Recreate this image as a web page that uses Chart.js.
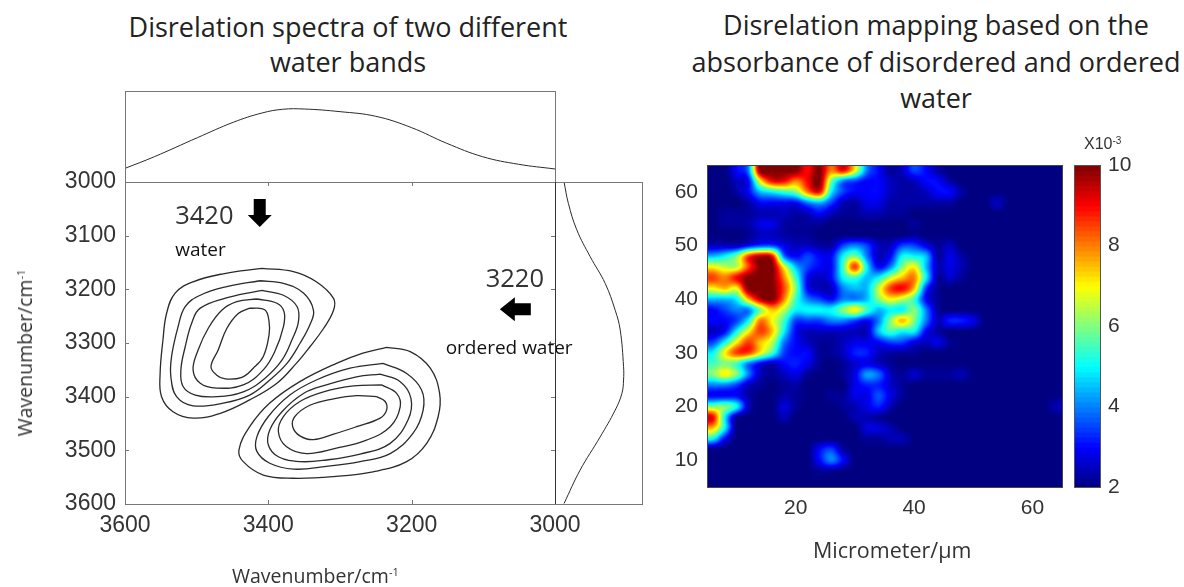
<!DOCTYPE html>
<html lang="en">
<head>
<meta charset="UTF-8">
<title>Disrelation spectra and mapping</title>
<script src="https://cdn.jsdelivr.net/npm/chart.js"></script>
<style>
    body { margin: 0; background: #fff; width: 1184px; height: 587px; overflow: hidden; position: relative; font-family: 'Open Sans', sans-serif; color: #333; }
    canvas { position: absolute; }
    .title { position: absolute; text-align: center; font-size: 27px; white-space: nowrap; color: #222; }
    .axisLabel { position: absolute; white-space: nowrap; line-height: 28px; }
    .axisLabel sup { font-size: 11px; vertical-align: 7px; line-height: 0; }
    #scaleNote { position: absolute; left: 1084px; top: 135px; font: 16px 'Liberation Sans', sans-serif; }
    #scaleNote sup { font-size: 10px; vertical-align: 5px; line-height: 0; }
</style>
</head>
<body>
<div class="title" style="left:48px;width:600px;top:9px;line-height:35px">Disrelation spectra of two different<br>water bands</div>
<div class="title" style="left:636px;width:600px;top:7px;line-height:36.5px">Disrelation mapping based on the<br>absorbance of disordered and ordered<br>water</div>
<canvas id="mainChart" width="580" height="417" style="left:0;top:170px"></canvas>
<canvas id="topChart" width="445" height="100" style="left:120px;top:85px"></canvas>
<canvas id="sideChart" width="92" height="417" style="left:555px;top:170px"></canvas>
<canvas id="heatChart" width="420" height="437" style="left:650px;top:150px"></canvas>
<canvas id="barChart" width="116" height="437" style="left:1064px;top:150px"></canvas>
<div id="scaleNote">X10<sup>-3</sup></div>
<div class="axisLabel" style="left:232px;top:562px;font-size:19.5px">Wavenumber/cm<sup>-1</sup></div>
<div class="axisLabel" style="left:25px;top:353px;font-size:19.5px;transform:translate(-50%,-50%) rotate(-90deg)">Wavenumber/cm<sup>-1</sup></div>
<div class="axisLabel" style="left:813px;top:536px;font-size:21.5px">Micrometer/µm</div>

<script>
const wnTicksX = [3600, 3400, 3200, 3000];
const wnTicksY = [3000, 3100, 3200, 3300, 3400, 3500, 3600];
const heatTicksX = [20, 40, 60];
const heatTicksY = [10, 20, 30, 40, 50, 60];
const colorTicks = [2, 4, 6, 8, 10];

// [wavenumber, intensity]
const topSpectrum = [[3600,.15],[3559,.278],[3499,.487],[3449,.656],[3409,.758],[3380,.799],[3350,.802],[3300,.773],[3250,.722],[3200,.597],[3151,.425],[3101,.278],[3051,.195],[3000,.143]];
// [intensity, wavenumber]
const sideSpectrum = [[.104,3000],[.154,3040],[.25,3089],[.404,3139],[.577,3189],[.692,3239],[.75,3276],[.788,3344],[.788,3369],[.769,3394],[.692,3425],[.519,3475],[.288,3537],[.104,3599]];

const waterLoop1 = [[3409,3161],[3365,3167],[3333,3186],[3309,3217],[3309,3239],[3323,3273],[3342,3307],[3361,3338],[3388,3375],[3426,3406],[3467,3431],[3505,3440],[3533,3428],[3549,3400],[3551,3357],[3547,3294],[3542,3245],[3530,3207],[3505,3186],[3463,3171]];
const waterLoop2 = [[3412,3184],[3379,3189],[3351,3207],[3337,3239],[3342,3266],[3356,3301],[3374,3338],[3398,3369],[3426,3397],[3463,3412],[3505,3417],[3528,3400],[3536,3363],[3535,3325],[3526,3270],[3516,3232],[3495,3211],[3458,3195]];
const waterLoop3 = [[3409,3202],[3379,3211],[3360,3232],[3358,3260],[3367,3294],[3381,3332],[3405,3366],[3435,3391],[3472,3400],[3502,3397],[3519,3381],[3522,3350],[3516,3307],[3507,3263],[3495,3235],[3453,3214]];
const waterLoop4 = [[3416,3218],[3388,3226],[3378,3242],[3379,3270],[3391,3316],[3407,3350],[3435,3378],[3472,3384],[3495,3375],[3505,3350],[3498,3313],[3484,3273],[3465,3239],[3444,3223]];
const waterLoop5 = [[3426,3235],[3405,3238],[3399,3260],[3399,3285],[3407,3325],[3421,3347],[3437,3364],[3460,3367],[3472,3360],[3480,3344],[3470,3313],[3458,3273],[3442,3245]];
const orderedLoop1 = [[3235,3308],[3202,3316],[3174,3347],[3161,3394],[3163,3437],[3179,3487],[3207,3521],[3254,3540],[3309,3549],[3365,3552],[3407,3546],[3435,3521],[3441,3499],[3426,3456],[3398,3412],[3356,3372],[3305,3338],[3268,3319]];
const orderedLoop2 = [[3240,3338],[3207,3357],[3186,3388],[3184,3425],[3198,3468],[3230,3506],[3272,3521],[3319,3530],[3365,3535],[3398,3524],[3416,3502],[3416,3475],[3400,3437],[3370,3397],[3333,3369],[3286,3347]];
const orderedLoop3 = [[3244,3358],[3216,3372],[3201,3403],[3205,3443],[3230,3487],[3272,3507],[3319,3518],[3356,3521],[3386,3512],[3400,3490],[3398,3462],[3381,3428],[3351,3394],[3319,3378],[3277,3363]];
const orderedLoop4 = [[3242,3378],[3221,3394],[3216,3419],[3230,3456],[3263,3481],[3305,3496],[3347,3506],[3375,3493],[3386,3465],[3379,3437],[3356,3409],[3323,3391],[3281,3380]];
const orderedLoop5 = [[3249,3400],[3237,3409],[3235,3425],[3244,3440],[3277,3456],[3309,3470],[3337,3480],[3356,3473],[3366,3456],[3363,3437],[3342,3416],[3309,3404],[3277,3398]];

// absorbance map, first row is y=64, last row y=6, columns x=6,8,...,64
const heatValues = [
 [2,2,3,4,10,10,10,10,9,10,8,9,7,4,3,2.2,2.5,3.5,3,2.3,2,2,2,2,2,2,2,2,2,2],
 [2,2,2.5,3,7,9,9,8,9,10,6,4,3.5,3,3,2.5,2.3,2.5,3,3,2.3,2,2,2,2,2,2,2,2,2],
 [2,2,2.3,3,4.5,5,5.5,6,8,9,5,3.5,3,3,3,2.5,2.3,2.3,2.5,3,3,2.3,2,2,2,2,2,2,2,2],
 [2,2,2,2.3,3,3,3,3,4,4.5,3.5,2.5,2.3,2.8,2.8,2.3,2.3,2.3,2.3,2.3,2.3,2,2,2,2.5,2,2,2,2,2],
 [2,2.2,2.2,2.2,2.4,2.4,2.5,2.3,2.5,3,2.5,2.2,2.2,2.4,2.4,2.2,2.2,2,2,2,2,2,2,2,2,2,2,2,2,2],
 [2,2.2,2.2,2.3,2.8,2.8,2.3,2.2,2.2,2.2,2,2,2,2,2,2,2,2.2,2,2,2,2,2,2,2,2,2,2,2,2],
 [2,2,2,2.2,2.5,2.5,2.3,2.2,2.2,2,2,2,2,2,2,2,2,2.2,2,2,2,2,2,2,2,2,2,2,2,2],
 [2.5,2.5,2.5,3,3.5,3.5,2.8,2.5,2.5,2.3,2.3,3.5,4,3.5,2.5,2.5,3.5,3.5,2.8,2.2,2.5,2,2,2,2,2,2,2,2,2],
 [4.5,5,6,8.5,9.5,9,4,3,3.5,3,3,5,6,4,2.5,3,5,5,4.5,2.3,2.8,2.3,2,2,2,2,2,2,2,2],
 [7,6.5,6.5,8.5,10,10,7,4.5,3.5,3,3,5.5,8.5,5,3,4,6,7,4.5,2.5,2.8,2.4,2,2,2,2,2,2,2,2],
 [8.5,8,9,10,10,10,8,5.5,3,2.5,3,5,5.5,4.5,5,6.5,7.5,8,5,2.3,2.6,2.2,2,2,2,2,2,2,2,2],
 [7,7.5,7,10,10,10,8.5,6,3,2.5,2.5,4,4.5,4.5,6.5,8.5,9,7.5,3.5,2.2,2,2,2,2,2,2,2,2,2,2],
 [4.5,4.5,5,7.5,9.5,10,8,5.5,4,3.5,3,4,4,4.5,6,7,6.5,5.5,3,2.2,2,2,2,2,2,2,2,2,2,2],
 [3,3.5,4,4,6,7.5,6.5,5,5,5,5,6,7,5.5,4.5,5,5,6,4,2.3,2,2,2,2,2,2,2,2,2,2],
 [3,3,3.5,5,8,7,5.5,3.5,3.5,3.5,4,4,3.5,3,4,6,7.5,6,4,2.5,3.2,3.2,2.8,2,2,2,2,2,2,2],
 [2.5,3,5,7,8.5,7.5,5,3,2.5,2.5,2.5,2.5,2.5,2.5,4.5,5.5,5,5,3,2.3,2,2,2,2,2,2,2,2,2,2],
 [3.5,5,7,8.5,7.5,6.5,4,3,2.5,2.2,2.2,2.5,2.8,2.8,3,3.5,3.5,2.8,2.5,2.8,2.2,2,2,2,2,2,2,2,2,2],
 [5,7,8.5,8.5,7,5.5,3.5,3,3,2.2,2.2,2.5,3.2,3.2,2.5,2.3,2.2,2.2,2,2,2,2,2,2,2,2,2,2,2,2],
 [5.5,6,5.5,4,3,2.5,3,3.2,2.8,2.2,2,2.2,2.6,2.8,2.5,2.2,2,2,2,2,2,2,2,2,2,2,2,2,2,2],
 [6,7,6,4,2.5,2.2,2.5,2.8,2.2,2,2,2.2,2.8,4.2,3.8,2.5,2.2,2.6,2.2,2.2,2.2,2.4,2,2,2,2,2,2,2,2],
 [4,4,3.5,2.5,2.2,2,2.2,2.3,2,2,2,2,2.8,3.2,3.2,2.6,2.2,2,2,2,2,2,2,2,2,2,2,2,2,2],
 [3,3,3,2.3,2,2,2.3,2.2,2,2,2.2,2.2,2.8,2.8,3.6,2.8,2.2,2,2,2,2,2,2,2,2,2,2,2,2,2],
 [6,6,5,2.5,2,2,2.7,2.2,2,2,2,2.2,2.4,2.8,3.2,2.4,2,2,2,2,2,2,2,2,2,2,2,2,2,2.4],
 [9,5,2.2,2,2,2,2.4,2,2,2,2,2,2.4,2.4,2.2,2,2,2,2,2,2,2,2,2,2,2,2,2,2,2],
 [7.5,5,2,2,2,2,2,2,2,2,2,2,2,2.7,2.7,2.4,2,2,2,2,2,2,2,2,2,2,2,2,2,2],
 [5,3,2,2,2,2,2,2,2,2,2,2,2,2.2,2.2,2.4,2.4,2,2,2,2,2,2,2,2,2,2,2,2,2],
 [2,2,2,2,2,2,2,2,2,3,3.5,2.3,2,2,2,2,2,2,2,2,2,2,2,2,2,2,2,2,2,2],
 [2,2,2,2,2,2,2,2,2,3,4,3,2,2,2,2,2,2,2,2,2,2,2,2,2,2,2,2,2,2],
 [2,2,2,2,2,2,2,2,2,2.2,2.2,2,2,2,2,2,2,2,2,2,2,2,2,2,2,2,2,2,2,2],
 [2,2,2,2,2,2,2,2,2,2,2,2,2,2,2,2,2,2,2,2,2,2,2,2,2,2,2,2,2,2]
];

const tickFont = { family: 'Liberation Sans', size: 23 };
const heatTickFont = { family: 'Liberation Sans', size: 21 };
const lineColor = '#2a2a2a';
const frameColor = '#777';

function pts(list) {
    return list.map(p => ({ x: p[0], y: p[1] }));
}

function loopData(list) {
    return pts(list.concat([list[0]]));
}

function jet(v) {
    const t = Math.min(1, Math.max(0, (v - 2) / 8));
    const c = o => Math.round(255 * Math.min(1, Math.max(0, 1.5 - Math.abs(4 * t - o))));
    return [c(3), c(2), c(1)];
}

function cubic(a, b, c, d, t) {
    return b + 0.5 * t * (c - a + t * (2 * a - 5 * b + 4 * c - d + t * (3 * (b - c) + d - a)));
}

function heatAt(x, y) {
    const fx = (x - 6) / 2, fy = (64 - y) / 2;
    const ix = Math.floor(fx), iy = Math.floor(fy);
    const cell = (i, j) => heatValues[Math.min(29, Math.max(0, j))][Math.min(29, Math.max(0, i))];
    const row = j => cubic(cell(ix - 1, j), cell(ix, j), cell(ix + 1, j), cell(ix + 2, j), fx - ix);
    return cubic(row(iy - 1), row(iy), row(iy + 1), row(iy + 2), fy - iy);
}

// frame round the plot with short ticks pointing inward
const framePlugin = {
    id: 'frame',
    afterDraw(chart, args, opts) {
        const { ctx, chartArea: a, scales } = chart;
        ctx.save();
        ctx.strokeStyle = opts.color || frameColor;
        ctx.lineWidth = 1;
        ctx.strokeRect(a.left + .5, a.top + .5, a.right - a.left, a.bottom - a.top);
        if (opts.ticks) {
            ctx.beginPath();
            scales.x.ticks.forEach(t => {
                const p = Math.round(scales.x.getPixelForValue(t.value)) + .5;
                ctx.moveTo(p, a.top); ctx.lineTo(p, a.top + 4);
                ctx.moveTo(p, a.bottom); ctx.lineTo(p, a.bottom - 4);
            });
            scales.y.ticks.forEach(t => {
                const p = Math.round(scales.y.getPixelForValue(t.value)) + .5;
                ctx.moveTo(a.left, p); ctx.lineTo(a.left + 4, p);
                ctx.moveTo(a.right, p); ctx.lineTo(a.right - 4, p);
            });
            ctx.stroke();
        }
        if (opts.leftEdge) {
            ctx.strokeStyle = opts.leftEdge;
            ctx.beginPath();
            ctx.moveTo(a.left + .5, a.top); ctx.lineTo(a.left + .5, a.bottom);
            ctx.stroke();
        }
        ctx.restore();
    }
};

const notePlugin = {
    id: 'notes',
    afterDatasetsDraw(chart) {
        const { ctx, scales: { x, y } } = chart;
        ctx.save();
        ctx.textBaseline = 'middle';
        ctx.fillStyle = '#333';
        ctx.font = "25.5px 'Open Sans'";
        ctx.textAlign = 'left';
        ctx.fillText('3420', x.getPixelForValue(3530), y.getPixelForValue(3064));
        ctx.textAlign = 'center';
        ctx.fillText('3220', x.getPixelForValue(3056), y.getPixelForValue(3183));
        ctx.fillStyle = '#111';
        ctx.font = "19px 'Open Sans'";
        ctx.fillText('ordered water', x.getPixelForValue(3064), y.getPixelForValue(3310));
        ctx.textAlign = 'left';
        ctx.fillText('water', x.getPixelForValue(3530), y.getPixelForValue(3127));

        ctx.fillStyle = '#000';
        const dx = x.getPixelForValue(3412), dy = y.getPixelForValue(3084);
        ctx.beginPath();
        ctx.moveTo(dx, dy); ctx.lineTo(dx - 12, dy - 12); ctx.lineTo(dx - 6, dy - 12); ctx.lineTo(dx - 6, dy - 28);
        ctx.lineTo(dx + 6, dy - 28); ctx.lineTo(dx + 6, dy - 12); ctx.lineTo(dx + 12, dy - 12);
        ctx.closePath(); ctx.fill();
        const lx = x.getPixelForValue(3077), ly = y.getPixelForValue(3237);
        ctx.beginPath();
        ctx.moveTo(lx, ly); ctx.lineTo(lx + 15, ly - 12); ctx.lineTo(lx + 15, ly - 6); ctx.lineTo(lx + 31, ly - 6);
        ctx.lineTo(lx + 31, ly + 6); ctx.lineTo(lx + 15, ly + 6); ctx.lineTo(lx + 15, ly + 12);
        ctx.closePath(); ctx.fill();
        ctx.restore();
    }
};

const heatPlugin = {
    id: 'heat',
    beforeDatasetsDraw(chart) {
        const { ctx, chartArea: a, scales: { x, y } } = chart;
        const w = Math.round(a.right - a.left), h = Math.round(a.bottom - a.top);
        const img = ctx.createImageData(w, h);
        for (let j = 0; j < h; j++) {
            const vy = y.getValueForPixel(a.top + j + .5);
            for (let i = 0; i < w; i++) {
                const c = jet(heatAt(x.getValueForPixel(a.left + i + .5), vy));
                const k = (j * w + i) * 4;
                img.data[k] = c[0]; img.data[k + 1] = c[1]; img.data[k + 2] = c[2]; img.data[k + 3] = 255;
            }
        }
        ctx.putImageData(img, Math.round(a.left), Math.round(a.top));
    }
};

const barPlugin = {
    id: 'colorbar',
    beforeDatasetsDraw(chart) {
        const { ctx, chartArea: a, scales: { y } } = chart;
        for (let i = 0; i < 64; i++) {
            const c = jet(2 + (i + .5) / 8);
            const top = y.getPixelForValue(2 + (i + 1) / 8), bottom = y.getPixelForValue(2 + i / 8);
            ctx.fillStyle = `rgb(${c[0]},${c[1]},${c[2]})`;
            ctx.fillRect(a.left, top, a.right - a.left, bottom - top + 1);
        }
    }
};

function setTicks(list) {
    return s => { s.ticks = list.map(v => ({ value: v })); };
}

// fixed axis boxes, no extra room for overhanging labels
function fitBox(size) {
    return s => {
        if (s.isHorizontal()) s.height = size; else s.width = size;
        s.paddingLeft = s.paddingRight = s.paddingTop = s.paddingBottom = 0;
    };
}

const plainLabel = v => String(v);

const baseOptions = {
    responsive: false,
    animation: false,
    plugins: { legend: { display: false }, tooltip: { enabled: false } }
};

const contourSets = [waterLoop1, waterLoop2, waterLoop3, waterLoop4, waterLoop5,
    orderedLoop1, orderedLoop2, orderedLoop3, orderedLoop4, orderedLoop5].map(loop => ({
    data: loopData(loop),
    showLine: true,
    tension: 0.4,
    borderColor: lineColor,
    borderWidth: 1.3,
    pointRadius: 0
}));

new Chart(document.getElementById('mainChart'), {
    type: 'scatter',
    data: { datasets: contourSets },
    plugins: [framePlugin, notePlugin],
    options: {
        ...baseOptions,
        layout: { padding: { top: 12, right: 25 } },
        plugins: { ...baseOptions.plugins, frame: { ticks: true } },
        scales: {
            x: {
                min: 3000, max: 3600, reverse: true,
                afterBuildTicks: setTicks(wnTicksX),
                afterFit: fitBox(83),
                grid: { display: false }, border: { display: false },
                ticks: { font: tickFont, color: '#333', padding: 0, maxRotation: 0, callback: plainLabel }
            },
            y: {
                min: 3000, max: 3600, reverse: true,
                afterBuildTicks: setTicks(wnTicksY),
                afterFit: fitBox(125),
                grid: { display: false }, border: { display: false },
                ticks: { font: tickFont, color: '#333', padding: 1, callback: plainLabel }
            }
        }
    }
});

new Chart(document.getElementById('topChart'), {
    type: 'scatter',
    data: { datasets: [{ data: pts(topSpectrum), showLine: true, tension: 0.4, borderColor: lineColor, borderWidth: 1, pointRadius: 0 }] },
    plugins: [framePlugin],
    options: {
        ...baseOptions,
        layout: { padding: { left: 5, right: 10, top: 6, bottom: 3 } },
        scales: {
            x: { display: false, min: 3000, max: 3600, reverse: true },
            y: { display: false, min: 0, max: 1 }
        }
    }
});

new Chart(document.getElementById('sideChart'), {
    type: 'scatter',
    data: { datasets: [{ data: pts(sideSpectrum), showLine: true, tension: 0.4, borderColor: lineColor, borderWidth: 1, pointRadius: 0 }] },
    plugins: [framePlugin],
    options: {
        ...baseOptions,
        layout: { padding: { left: 0, right: 5, top: 12, bottom: 83 } },
        plugins: { ...baseOptions.plugins, frame: { leftEdge: '#333' } },
        scales: {
            x: { display: false, min: 0, max: 1 },
            y: { display: false, min: 3000, max: 3600, reverse: true }
        }
    }
});

const heatPoints = [];
heatValues.forEach((row, j) => row.forEach((v, i) => heatPoints.push({ x: 6 + 2 * i, y: 64 - 2 * j })));

new Chart(document.getElementById('heatChart'), {
    type: 'scatter',
    data: { datasets: [{ data: heatPoints, pointRadius: 0 }] },
    plugins: [heatPlugin, framePlugin],
    options: {
        ...baseOptions,
        layout: { padding: { top: 15, right: 8 } },
        plugins: { ...baseOptions.plugins, frame: { color: '#445' } },
        scales: {
            x: {
                min: 5, max: 65,
                afterBuildTicks: setTicks(heatTicksX),
                afterFit: fitBox(100),
                grid: { display: false }, border: { display: false },
                ticks: { font: heatTickFont, color: '#333', padding: 1, maxRotation: 0 }
            },
            y: {
                min: 5, max: 65,
                afterBuildTicks: setTicks(heatTicksY),
                afterFit: fitBox(57),
                grid: { display: false }, border: { display: false },
                ticks: { font: heatTickFont, color: '#333', padding: 1 }
            }
        }
    }
});

new Chart(document.getElementById('barChart'), {
    type: 'scatter',
    data: { datasets: [{ data: colorTicks.map(v => ({ x: 0, y: v })), pointRadius: 0 }] },
    plugins: [barPlugin, framePlugin],
    options: {
        ...baseOptions,
        layout: { padding: { left: 10, top: 15, bottom: 100 } },
        plugins: { ...baseOptions.plugins, frame: { color: '#555' } },
        scales: {
            x: { display: false, min: 0, max: 1 },
            y: {
                position: 'right', min: 2, max: 10,
                afterBuildTicks: setTicks(colorTicks),
                afterFit: fitBox(80),
                grid: { display: false }, border: { display: false },
                ticks: { font: heatTickFont, color: '#333', padding: 0 }
            }
        }
    }
});
</script>
</body>
</html>
